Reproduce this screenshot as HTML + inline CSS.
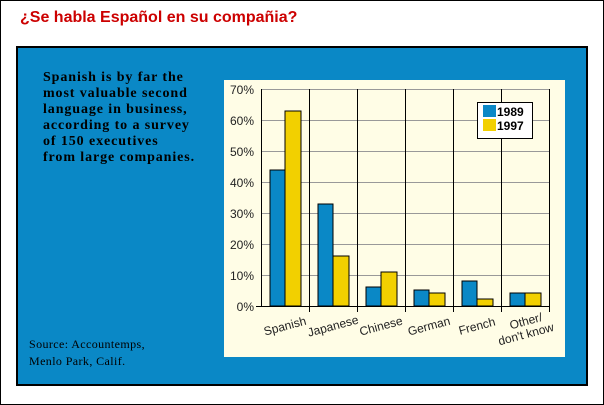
<!DOCTYPE html>
<html><head><style>
body{margin:0;width:604px;height:405px;background:#fff;position:relative;overflow:hidden}
.outer{position:absolute;left:0;top:0;width:602px;height:403px;border:1px solid #000}
.t{position:absolute;left:20px;top:9px;font:bold 16px "Liberation Sans",sans-serif;color:#c00}
.panel{position:absolute;left:16px;top:46px;width:568px;height:336px;background:#0a88c6;border:2px solid #000}
.p{position:absolute;left:43px;top:70px;font:bold 14px/16px "Liberation Serif",serif;letter-spacing:0.9px;color:#000}
.s{position:absolute;left:29px;top:336px;font:12px/17px "Liberation Serif",serif;letter-spacing:0.4px;color:#000}
</style></head><body>
<div class="outer"></div>
<div class="t">¿Se habla Español en su compañia?</div>
<div class="panel"></div>
<div class="p">Spanish is by far the<br>most valuable second<br>language in business,<br>according to a survey<br>of 150 executives<br>from large companies.</div>
<div class="s">Source: Accountemps,<br>Menlo Park, Calif.</div>
<svg style="position:absolute;left:0;top:0" width="604" height="405" font-family="Liberation Sans,sans-serif" font-size="12">
<rect x="224" y="80" width="341" height="277" fill="#fffde6"/>
<g stroke="#999" stroke-width="1">
<line x1="261" x2="549" y1="275.5" y2="275.5"/><line x1="261" x2="549" y1="244.5" y2="244.5"/><line x1="261" x2="549" y1="213.5" y2="213.5"/><line x1="261" x2="549" y1="182.5" y2="182.5"/><line x1="261" x2="549" y1="151.5" y2="151.5"/><line x1="261" x2="549" y1="120.5" y2="120.5"/><line x1="261" x2="549" y1="89.5" y2="89.5"/>
</g>
<g stroke="#000" stroke-width="1">
<line x1="309.5" x2="309.5" y1="89" y2="312"/><line x1="357.5" x2="357.5" y1="89" y2="312"/><line x1="405.5" x2="405.5" y1="89" y2="312"/><line x1="453.5" x2="453.5" y1="89" y2="312"/><line x1="501.5" x2="501.5" y1="89" y2="312"/><line x1="549.5" x2="549.5" y1="89" y2="312"/>
</g>
<g stroke="#000" stroke-width="1">
<rect x="270" y="170" width="15" height="136" fill="#0a88c6"/><rect x="285" y="111" width="16" height="195" fill="#f2d000"/>
<rect x="318" y="204" width="15" height="102" fill="#0a88c6"/><rect x="333" y="256" width="16" height="50" fill="#f2d000"/>
<rect x="366" y="287" width="15" height="19" fill="#0a88c6"/><rect x="381" y="272" width="16" height="34" fill="#f2d000"/>
<rect x="414" y="290" width="15" height="16" fill="#0a88c6"/><rect x="429" y="293" width="16" height="13" fill="#f2d000"/>
<rect x="462" y="281" width="15" height="25" fill="#0a88c6"/><rect x="477" y="299" width="16" height="7" fill="#f2d000"/>
<rect x="510" y="293" width="15" height="13" fill="#0a88c6"/><rect x="525" y="293" width="16" height="13" fill="#f2d000"/>
</g>
<line x1="261.5" x2="261.5" y1="89" y2="307" stroke="#000"/>
<line x1="256" x2="549" y1="306.5" y2="306.5" stroke="#000"/>
<g text-anchor="end" fill="#222">
<text x="254" y="94">70%</text><text x="254" y="125">60%</text><text x="254" y="156">50%</text><text x="254" y="187">40%</text><text x="254" y="218">30%</text><text x="254" y="249">20%</text><text x="254" y="280">10%</text><text x="254" y="311">0%</text>
</g>
<rect x="477.5" y="102.5" width="55" height="36" fill="#fff" stroke="#000"/>
<rect x="483" y="105" width="13" height="12" fill="#0a88c6"/><rect x="483" y="119" width="13" height="12" fill="#f2d000"/>
<text x="497" y="116" font-weight="bold" font-size="12">1989</text><text x="497" y="130" font-weight="bold" font-size="12">1997</text>
<g fill="#222" text-anchor="middle">
<text transform="translate(286,330) rotate(-15)">Spanish</text>
<text transform="translate(334,330) rotate(-15)">Japanese</text>
<text transform="translate(382,330) rotate(-15)">Chinese</text>
<text transform="translate(430,330) rotate(-15)">German</text>
<text transform="translate(478,330) rotate(-15)">French</text>
<text transform="translate(527,325) rotate(-15)">Other/</text>
<text transform="translate(527,338) rotate(-15)">don't know</text>
</g>
</svg>
</body></html>
